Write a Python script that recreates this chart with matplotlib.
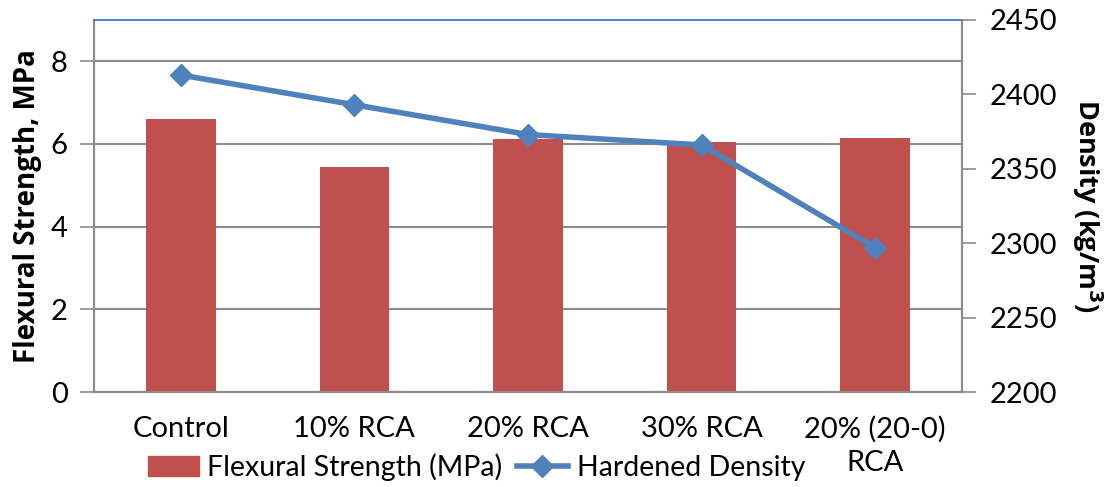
import matplotlib

matplotlib.use("Agg")
import matplotlib.pyplot as plt
from matplotlib.lines import Line2D
from matplotlib.patches import Patch

plt.rcParams["font.family"] = ["Lato", "DejaVu Sans"]

categories = ["Control", "10% RCA", "20% RCA", "30% RCA", "20% (20-0)\nRCA"]
flexural = [6.6, 5.44, 6.11, 6.04, 6.14]
density = [2413, 2393, 2373, 2366, 2297]
left_ticks = [0, 2, 4, 6, 8]
right_ticks = [2200, 2250, 2300, 2350, 2400, 2450]

bar_color = "#C0504D"
line_color = "#4F81BD"
grid_color = "#8C8C8C"
fs = 21

fig = plt.figure(figsize=(11.13, 4.87), dpi=100)
ax = fig.add_axes([0.0845, 0.195, 0.7798, 0.764])
x = list(range(len(categories)))

ax.bar(x, flexural, width=0.4, color=bar_color, zorder=2)
ax.set_xlim(-0.5, len(categories) - 0.5)
ax.set_ylim(0, 9)
ax.set_yticks(left_ticks)
ax.set_xticks(x)
ax.set_xticklabels(categories, fontsize=fs, linespacing=1.35)
ax.tick_params(axis="x", length=0, pad=17)
ax.tick_params(axis="y", labelsize=fs, length=10, width=1.2, color=grid_color, pad=9)
ax.yaxis.grid(True, color=grid_color, linewidth=1.5, zorder=0)
ax.set_axisbelow(True)
for side in ("left", "bottom", "right"):
    ax.spines[side].set_color(grid_color)
    ax.spines[side].set_linewidth(1.5)
ax.spines["top"].set_color(line_color)
ax.spines["top"].set_linewidth(1.2)
ax.set_ylabel("Flexural Strength, MPa", fontsize=20, fontweight="bold",
              family="Open Sans", labelpad=6)

ax2 = ax.twinx()
ax2.plot(x, density, color=line_color, linewidth=4, marker="D", markersize=11,
         zorder=3)
ax2.set_ylim(2200, 2450)
ax2.set_yticks(right_ticks)
ax2.tick_params(axis="y", labelsize=fs, length=10, width=1.2, color=grid_color, pad=10)
for side in ("left", "bottom", "right"):
    ax2.spines[side].set_color(grid_color)
    ax2.spines[side].set_linewidth(1.5)
ax2.spines["top"].set_color(line_color)
ax2.spines["top"].set_linewidth(1.2)
ax2.set_ylabel("Density (kg/m$^\\mathbf{3}$)", fontsize=19.5, fontweight="bold",
               family="Open Sans", rotation=270, labelpad=34)

handles = [
    Patch(color=bar_color),
    Line2D([0], [0], color=line_color, linewidth=4, marker="D", markersize=11),
]
fig.legend(handles, ["Flexural Strength (MPa)", "Hardened Density"], ncol=2,
           loc="center", bbox_to_anchor=(0.428, 0.04), frameon=False,
           fontsize=20.5, handlelength=1.8, handletextpad=0.3, columnspacing=0.5,
           borderpad=0)

fig.savefig("out.png", dpi=100)
